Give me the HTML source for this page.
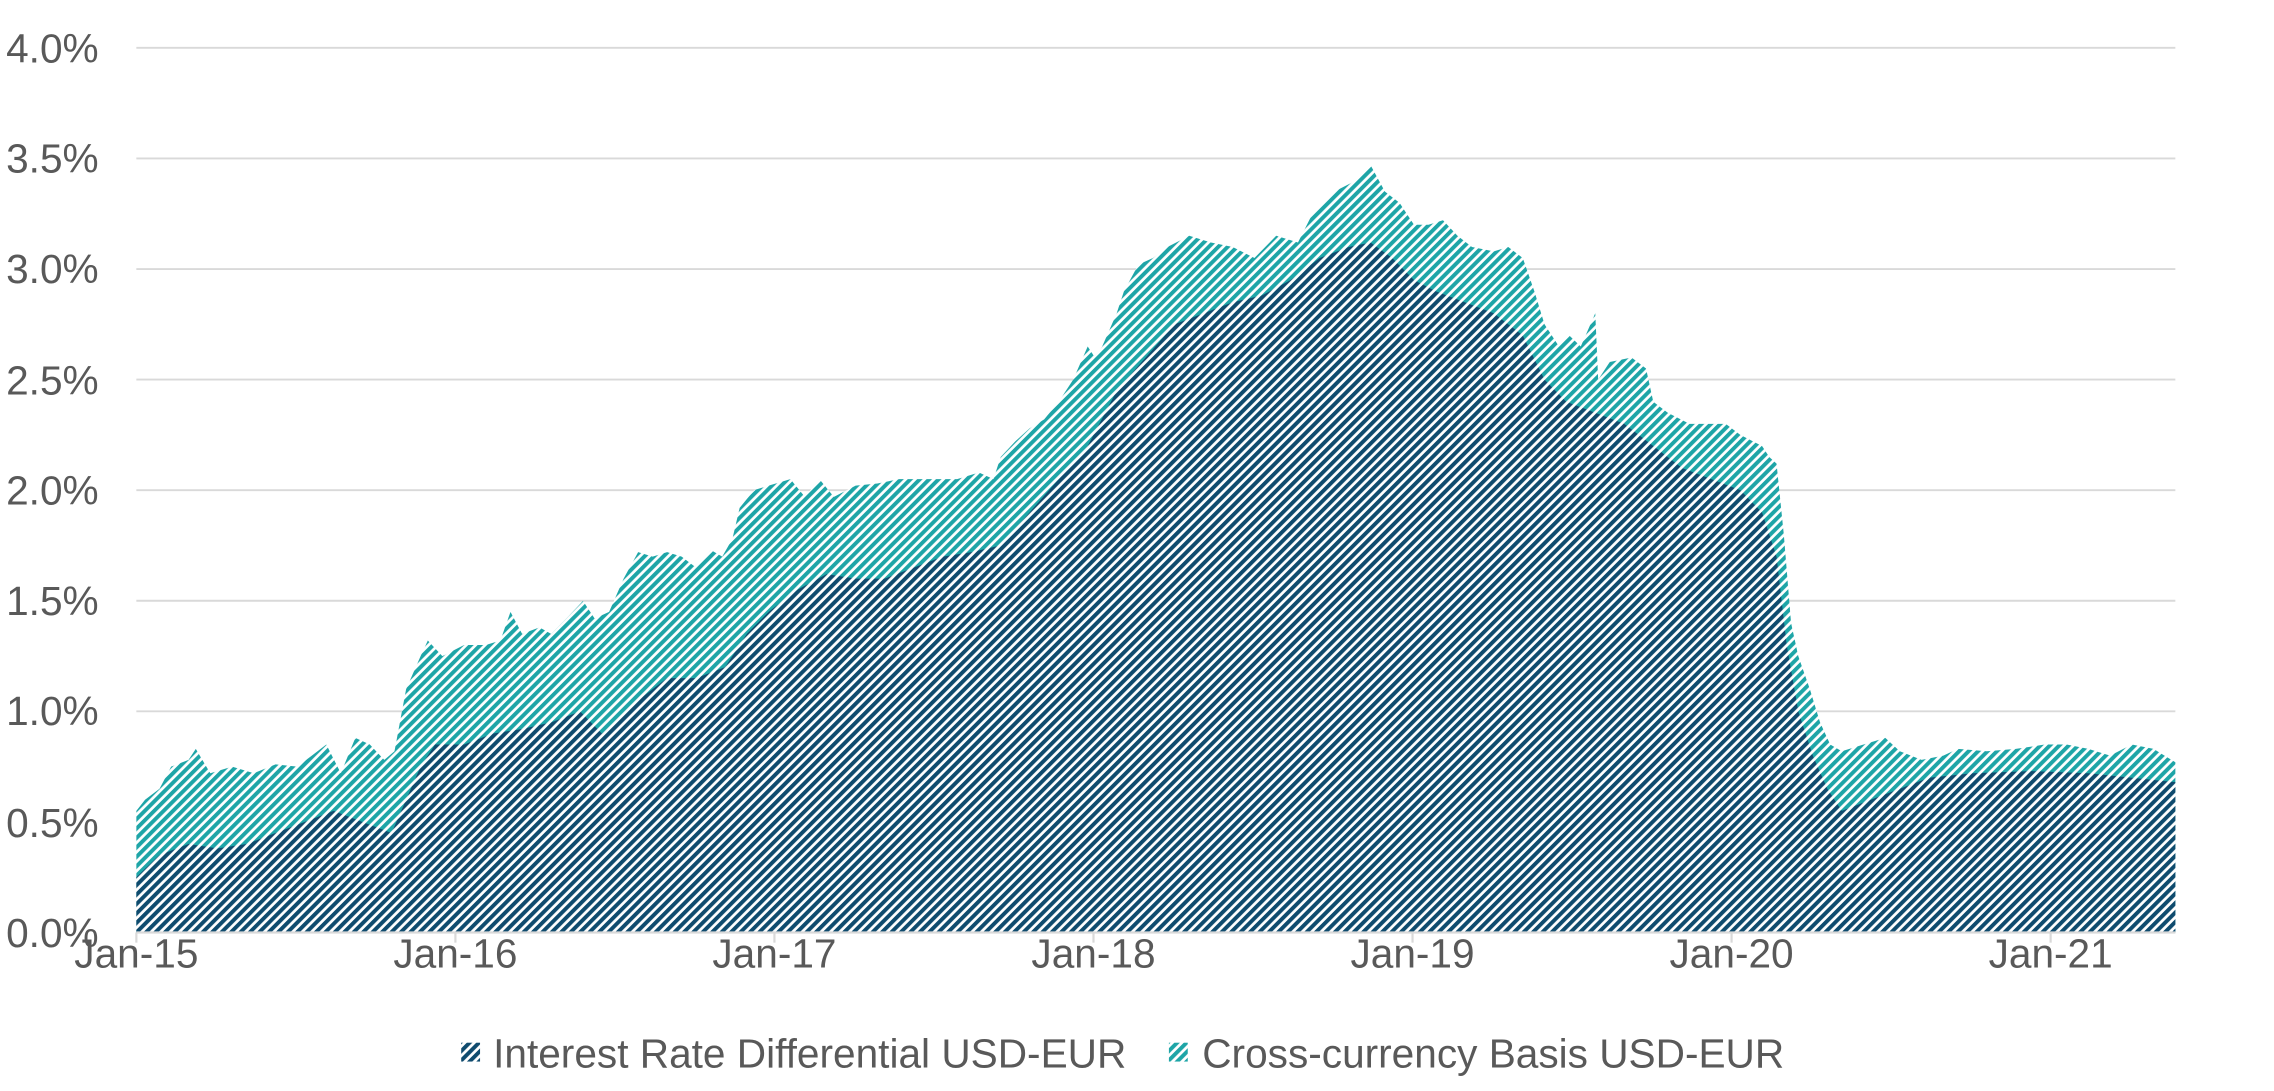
<!DOCTYPE html>
<html><head><meta charset="utf-8"><style>
html,body{margin:0;padding:0;background:#fff;}
svg{display:block;}
text{font-family:"Liberation Sans",Arial,sans-serif;fill:#595959;font-size:28px;}
</style></head><body>
<svg id="s" width="2274" height="1091" viewBox="0 0 1568 752.3" xmlns="http://www.w3.org/2000/svg">
<defs>
<pattern id="pn" patternUnits="userSpaceOnUse" width="4.6" height="4.6" patternTransform="rotate(45)">
<rect width="4.6" height="4.6" fill="#fff"/><rect width="2.7" height="4.6" fill="#0f4b6e"/></pattern>
<pattern id="pt" patternUnits="userSpaceOnUse" width="4.6" height="4.6" patternTransform="rotate(45)">
<rect width="4.6" height="4.6" fill="#fff"/><rect width="2.7" height="4.6" fill="#1ea5a7"/></pattern>
</defs>
<g stroke="#d9d9d9" stroke-width="1.3">
<line x1="94" x2="1500" y1="33" y2="33"/><line x1="94" x2="1500" y1="109.25" y2="109.25"/>
<line x1="94" x2="1500" y1="185.5" y2="185.5"/><line x1="94" x2="1500" y1="261.75" y2="261.75"/>
<line x1="94" x2="1500" y1="338" y2="338"/><line x1="94" x2="1500" y1="414.25" y2="414.25"/>
<line x1="94" x2="1500" y1="490.5" y2="490.5"/><line x1="94" x2="1500" y1="566.75" y2="566.75"/>
</g>
<path id="top" fill="url(#pt)"/>
<path id="bot" fill="url(#pn)"/>
<g stroke="#d9d9d9" stroke-width="1.5">
<line x1="94" x2="1500" y1="643" y2="643"/>
<line x1="94" x2="94" y1="643" y2="650"/><line x1="314" x2="314" y1="643" y2="650"/>
<line x1="534" x2="534" y1="643" y2="650"/><line x1="754" x2="754" y1="643" y2="650"/>
<line x1="974" x2="974" y1="643" y2="650"/><line x1="1194" x2="1194" y1="643" y2="650"/>
<line x1="1414" x2="1414" y1="643" y2="650"/>
</g>
<g text-anchor="end">
<text x="68" y="43">4.0%</text><text x="68" y="119">3.5%</text><text x="68" y="195">3.0%</text>
<text x="68" y="272">2.5%</text><text x="68" y="348">2.0%</text><text x="68" y="424">1.5%</text>
<text x="68" y="500">1.0%</text><text x="68" y="577">0.5%</text><text x="68" y="653">0.0%</text>
</g>
<g text-anchor="middle">
<text x="94" y="667">Jan-15</text><text x="314" y="667">Jan-16</text><text x="534" y="667">Jan-17</text>
<text x="754" y="667">Jan-18</text><text x="974" y="667">Jan-19</text><text x="1194" y="667">Jan-20</text>
<text x="1414" y="667">Jan-21</text>
</g>
<rect x="318" y="719" width="13" height="13" fill="url(#pn)"/>
<text x="340" y="736">Interest Rate Differential USD-EUR</text>
<rect x="806" y="719" width="13" height="13" fill="url(#pt)"/>
<text x="829" y="736">Cross-currency Basis USD-EUR</text>
</svg>
<script>
var T=[94,.55,100,.6,110,.65,118,.75,130,.78,135,.83,145,.72,160,.75,175,.72,190,.76,205,.75,215,.8,225,.85,235,.72,245,.88,255,.85,265,.78,272,.82,280,1.1,290,1.25,295,1.32,305,1.25,320,1.3,335,1.3,345,1.32,352,1.45,360,1.35,372,1.38,380,1.35,392,1.43,402,1.5,410,1.42,420,1.45,430,1.6,440,1.72,450,1.7,460,1.72,470,1.7,480,1.65,490,1.73,498,1.7,505,1.78,510,1.92,520,2.0,530,2.02,545,2.05,555,1.97,565,2.05,575,1.97,590,2.02,605,2.03,620,2.05,640,2.05,660,2.05,675,2.08,685,2.05,690,2.15,700,2.22,710,2.28,720,2.32,730,2.4,740,2.5,750,2.65,755,2.6,760,2.65,770,2.8,775,2.9,785,3.02,795,3.05,805,3.1,820,3.15,835,3.12,850,3.1,865,3.05,880,3.15,895,3.12,905,3.25,920,3.35,935,3.4,945,3.47,955,3.35,965,3.3,975,3.2,985,3.2,995,3.22,1005,3.15,1015,3.1,1030,3.08,1040,3.1,1050,3.05,1058,2.9,1065,2.75,1075,2.65,1082,2.7,1090,2.65,1100,2.8,1102,2.5,1110,2.58,1125,2.6,1135,2.55,1140,2.4,1150,2.35,1165,2.3,1180,2.3,1190,2.3,1200,2.25,1215,2.2,1220,2.15,1225,2.12,1230,1.8,1235,1.4,1240,1.25,1248,1.1,1255,.95,1262,.85,1270,.82,1285,.85,1300,.88,1310,.82,1325,.78,1340,.8,1350,.83,1370,.82,1390,.83,1410,.85,1425,.85,1440,.83,1455,.8,1470,.85,1485,.83,1500,.77];
var B=[94,.25,110,.35,130,.4,150,.38,170,.4,190,.45,210,.5,230,.55,250,.5,270,.45,280,.6,290,.75,300,.85,320,.85,340,.9,360,.92,380,.95,400,1.0,415,.9,425,.95,440,1.05,460,1.15,480,1.15,500,1.2,515,1.35,530,1.45,550,1.55,570,1.62,590,1.6,610,1.6,630,1.65,650,1.7,670,1.72,690,1.75,710,1.9,730,2.05,750,2.2,770,2.45,790,2.6,810,2.75,830,2.8,850,2.85,870,2.88,890,2.95,910,3.05,930,3.1,945,3.12,960,3.05,975,2.95,990,2.9,1010,2.85,1030,2.8,1050,2.7,1065,2.5,1080,2.4,1100,2.35,1120,2.3,1140,2.2,1160,2.1,1180,2.05,1200,2.0,1215,1.9,1225,1.7,1232,1.3,1240,1.0,1250,.8,1260,.65,1270,.55,1290,.6,1310,.65,1330,.7,1360,.72,1400,.73,1440,.72,1470,.7,1500,.68];
function mk(a){var d="M94,643";for(var i=0;i<a.length;i+=2){d+=" L"+a[i]+","+(643-a[i+1]*152.5).toFixed(1);}return d+" L1500,643 Z";}
document.getElementById("top").setAttribute("d",mk(T));
document.getElementById("bot").setAttribute("d",mk(B));
</script>
</body></html>
